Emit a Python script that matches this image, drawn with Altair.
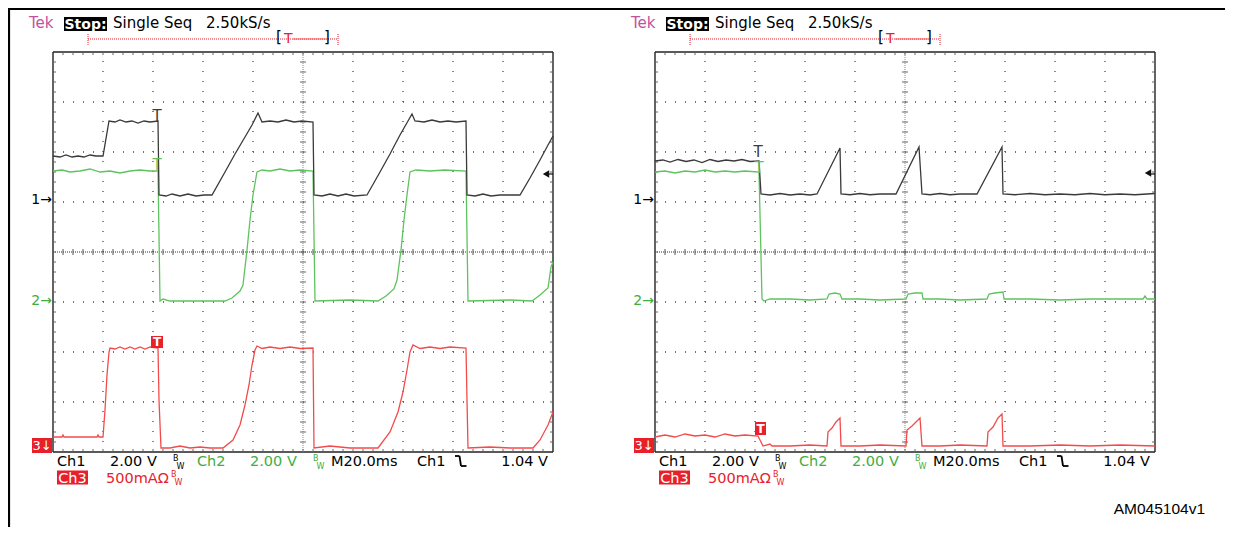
import altair as alt
import pandas as pd

# ---------------- scope settings ----------------
MS_PER_DIV = 20.0            # M20.0ms
CH1_PER_DIV, CH1_REF = 2.0, 5.04   # 2.00 V/div, "1->" marker (divisions from bottom)
CH2_PER_DIV, CH2_REF = 2.0, 3.02   # 2.00 V/div, "2->" marker
CH3_PER_DIV, CH3_REF = 0.5, 0.0    # 500 mA/div
PANEL_OFFSETS = [0.0, 12.04]       # left / right screen, in divisions

# ---------------- trace data (time in ms; Ch1/Ch2 in V; Ch3 in A) ----------------
L_CH1_T = [0, 2.8, 5.2, 7.6, 10.0, 12.4, 14.8, 17.2, 20.0, 22.4, 24.8, 26.8, 29.2, 31.6, 34.0, 36.4, 38.8, 42.0,
           42.4, 45.2, 47.6, 50.8, 54.0, 57.2, 60.4, 63.6, 68.8, 72.8, 76.8, 79.6, 82.0, 83.6, 86.8, 90.0, 93.2,
           96.4, 99.6, 104.0, 104.4, 107.6, 110.8, 114.0, 117.2, 120.4, 125.6, 130.8, 134.8, 138.8, 142.0, 143.6,
           144.8, 148.4, 151.6, 154.8, 158.0, 161.2, 165.2, 165.6, 168.8, 172.0, 175.2, 178.8, 186.8, 190.8, 194.8,
           198.0, 200.0]
L_CH1_V = [1.76, 1.72, 1.80, 1.72, 1.76, 1.72, 1.80, 1.76, 1.76, 3.16, 3.12, 3.20, 3.12, 3.16, 3.08, 3.16, 3.12, 3.16,
           0.20, 0.16, 0.24, 0.16, 0.24, 0.16, 0.20, 0.20, 1.12, 1.84, 2.52, 3.00, 3.48, 3.12, 3.16, 3.12, 3.20,
           3.12, 3.16, 3.12, 0.20, 0.16, 0.24, 0.16, 0.24, 0.16, 0.20, 1.12, 1.84, 2.60, 3.16, 3.44,
           3.16, 3.12, 3.20, 3.12, 3.16, 3.12, 3.16, 0.20, 0.16, 0.24, 0.16, 0.20, 0.20, 0.88, 1.60,
           2.20, 2.56]

L_CH2_T = [0, 3.6, 6.8, 10.8, 14.8, 18.8, 22.8, 26.8, 30.8, 34.8, 38.8, 42.0, 42.8, 44.0, 46.8, 68.8, 71.6, 74.8,
           76.0, 77.6, 78.8, 80.0, 81.6, 83.6, 86.8, 90.8, 94.8, 98.8, 104.0, 104.8, 118.8, 130.0, 133.2, 136.4,
           137.6, 139.2, 140.4, 141.6, 142.8, 145.2, 150.8, 156.8, 165.2, 166.0, 182.8, 191.6, 194.8, 198.0,
           199.2, 200.0]
L_CH2_V = [5.20, 5.24, 5.16, 5.20, 5.28, 5.16, 5.20, 5.12, 5.20, 5.24, 5.20, 5.20, 0.00, 0.08, 0.00, 0.00, 0.12, 0.40,
           0.64, 2.04, 3.24, 4.24, 5.16, 5.24, 5.20, 5.28, 5.20, 5.24, 5.20, 0.00, 0.04, 0.00, 0.20, 0.48,
           0.84, 2.04, 3.24, 4.24, 5.16, 5.24, 5.20, 5.24, 5.20, 0.00, 0.04, 0.00, 0.24, 0.52,
           1.36, 1.56]

L_CH3_T = [0, 3.6, 4.0, 4.4, 17.6, 18.0, 18.4, 20.0, 20.8, 21.6, 22.4, 22.8, 24.8, 26.8, 28.8, 30.8, 32.8, 34.8,
           36.8, 38.8, 42.0, 42.4, 43.2, 46.8, 50.8, 54.8, 58.8, 62.8, 68.0, 72.0, 74.8, 76.8, 78.4, 79.6, 80.8,
           81.6, 83.6, 86.8, 90.8, 94.8, 98.8, 104.0, 104.4, 110.8, 118.8, 130.0, 134.8, 138.0, 140.0, 141.6,
           142.8, 144.0, 146.8, 150.8, 154.8, 158.8, 165.2, 165.6, 166.0, 174.8, 182.8, 192.0, 194.8, 198.0, 200.0]
L_CH3_A = [0.15, 0.15, 0.17, 0.15, 0.15, 0.17, 0.15, 0.15, 0.42, 0.77, 1.00, 1.04, 1.03, 1.05, 1.03, 1.05, 1.03, 1.05,
           1.03, 1.05, 1.04, 0.52, 0.04, 0.04, 0.06, 0.04, 0.05, 0.04, 0.04, 0.12, 0.27, 0.47, 0.67, 0.87, 1.02,
           1.06, 1.035, 1.05, 1.035, 1.05, 1.035, 1.04, 0.04, 0.06, 0.04, 0.04, 0.20, 0.40, 0.60, 0.82,
           1.00, 1.07, 1.035, 1.05, 1.035, 1.05, 1.04, 0.52, 0.04, 0.05, 0.04, 0.04, 0.12, 0.27, 0.40]

R_CH1_T = [0, 3.2, 6.0, 9.2, 12.4, 15.6, 18.8, 22.0, 25.2, 28.4, 31.6, 34.8, 38.0, 41.6, 42.4, 46.0, 50.0, 54.0,
           58.0, 62.0, 64.8, 74.0, 74.4, 78.0, 82.0, 86.0, 90.0, 96.4, 105.6, 106.8, 110.0, 114.0, 118.0, 122.0,
           128.8, 138.8, 139.2, 144.0, 150.0, 156.0, 162.0, 168.0, 174.0, 180.0, 186.0, 192.0, 200.0]
R_CH1_V = [1.56, 1.60, 1.52, 1.62, 1.54, 1.60, 1.50, 1.62, 1.54, 1.60, 1.56, 1.62, 1.54, 1.56, 0.24, 0.20, 0.26, 0.20,
           0.24, 0.20, 0.24, 2.08, 0.24, 0.21, 0.26, 0.21, 0.24, 0.24, 2.12, 0.24, 0.21, 0.26, 0.21, 0.24,
           0.24, 2.12, 0.24, 0.21, 0.26, 0.21, 0.24, 0.21, 0.26, 0.21, 0.24, 0.21, 0.26]

R_CH2_T = [0, 4.0, 8.0, 12.0, 16.0, 20.0, 24.0, 28.0, 32.0, 36.0, 41.6, 42.8, 43.6, 46.0, 54.0, 62.0, 68.8, 69.6,
           72.0, 74.0, 74.8, 82.0, 90.0, 100.4, 101.2, 104.0, 106.8, 107.2, 114.0, 122.0, 132.8, 133.6, 136.0,
           139.2, 139.6, 150.0, 162.0, 174.0, 186.0, 195.2, 196.0, 196.8, 200.0]
R_CH2_V = [5.16, 5.20, 5.12, 5.20, 5.16, 5.24, 5.16, 5.20, 5.16, 5.20, 5.16, 0.08, 0.00, 0.08, 0.08, 0.04, 0.08, 0.28,
           0.32, 0.28, 0.08, 0.08, 0.04, 0.08, 0.28, 0.32, 0.32, 0.08, 0.08, 0.04, 0.08, 0.28, 0.32,
           0.36, 0.08, 0.08, 0.04, 0.08, 0.08, 0.08, 0.20, 0.08, 0.08]

R_CH3_T = [0, 4, 8, 12, 16, 20, 24, 28, 32, 36, 41.2, 42.0, 43.2, 46.0, 46.8, 54.0, 62.0, 68.8, 69.2, 70.8, 72.4,
           74.0, 74.4, 82.0, 90.0, 100.4, 100.8, 102.8, 104.4, 106.0, 106.8, 114.0, 122.0, 132.8, 133.2, 135.2,
           137.2, 138.8, 139.2, 150.0, 162.0, 174.0, 186.0, 200.0]
R_CH3_A = [0.15, 0.17, 0.15, 0.18, 0.16, 0.17, 0.15, 0.18, 0.16, 0.17, 0.16, 0.12, 0.06, 0.08, 0.06, 0.06, 0.07, 0.06,
           0.20, 0.24, 0.30, 0.34, 0.06, 0.06, 0.07, 0.06, 0.22, 0.26, 0.30, 0.34, 0.06, 0.06, 0.07, 0.06,
           0.20, 0.25, 0.34, 0.38, 0.06, 0.06, 0.07, 0.06, 0.07, 0.06]

# ---------------- labels ----------------
HEADER_LABELS = ["Tek", "Stop:", "Single Seq", "2.50kS/s"]
FOOTER_LABELS = ["Ch1", "2.00 V", "Ch2", "2.00 V", "M20.0ms", "Ch1", "1.04 V", "Ch3", "500mA\u03a9"]
DOC_ID = "AM045104v1"

# ---------------- styling ----------------
CH1_COLOR, CH2_COLOR, CH3_COLOR = "#3a3a3a", "#5ec35e", "#f24b4b"
CH2_TEXT, CH3_TEXT, TEK_COLOR = "#41ad41", "#e8202a", "#c052a0"
GRID_COLOR = "#4a4a4a"
FONT = "DejaVu Sans"
FS = 14.5   # footer font size

X_DOMAIN = [-0.9, 23.44]
Y_DOMAIN = [-1.5, 8.88]
W, H = 1217, 519

xs = alt.Scale(domain=X_DOMAIN, nice=False, zero=False)
ys = alt.Scale(domain=Y_DOMAIN, nice=False, zero=False)


def X(f="gx"):
    return alt.X(f"{f}:Q", scale=xs, axis=None)


def Y(f="gy"):
    return alt.Y(f"{f}:Q", scale=ys, axis=None)


COLOR = alt.Color("color:N", scale=None)

# ---------------- traces ----------------
frames = []
specs = [
    (0, "ch3", L_CH3_T, L_CH3_A, CH3_PER_DIV, CH3_REF, CH3_COLOR),
    (0, "ch2", L_CH2_T, L_CH2_V, CH2_PER_DIV, CH2_REF, CH2_COLOR),
    (0, "ch1", L_CH1_T, L_CH1_V, CH1_PER_DIV, CH1_REF, CH1_COLOR),
    (1, "ch3", R_CH3_T, R_CH3_A, CH3_PER_DIV, CH3_REF, CH3_COLOR),
    (1, "ch2", R_CH2_T, R_CH2_V, CH2_PER_DIV, CH2_REF, CH2_COLOR),
    (1, "ch1", R_CH1_T, R_CH1_V, CH1_PER_DIV, CH1_REF, CH1_COLOR),
]
for k, (p, ch, ts, vs, per, ref, col) in enumerate(specs):
    d = pd.DataFrame({"t": ts, "v": vs})
    d["gx"] = d["t"] / MS_PER_DIV + PANEL_OFFSETS[p]
    d["gy"] = d["v"] / per + ref
    d["series"] = f"{k}-{p}-{ch}"
    d["color"] = col
    d["i"] = range(len(d))
    frames.append(d)
traces_df = pd.concat(frames, ignore_index=True)

traces = alt.Chart(traces_df).mark_line(strokeWidth=1.3).encode(
    x=X(), y=Y(), color=COLOR, detail="series:N", order="i:Q")

# ---------------- graticule and decorations (rules) ----------------
rules = []  # gx, gx2, gy, gy2, color, style


def rule(x1, x2, y1, y2, color, style):
    rules.append({"gx": x1, "gx2": x2, "gy": y1, "gy2": y2, "color": color, "style": style})


TICK = 0.06
for o in PANEL_OFFSETS:
    # border
    rule(o, o + 10, 0, 0, "#222222", "border")
    rule(o, o + 10, 8, 8, "#222222", "border")
    rule(o, o, 0, 8, "#222222", "border")
    rule(o + 10, o + 10, 0, 8, "#222222", "border")
    # dotted major divisions
    for k in [1, 2, 3, 4, 6, 7, 8, 9]:
        rule(o + k, o + k, 0, 8, GRID_COLOR, "dots")
    for j in [1, 2, 3, 5, 6, 7]:
        rule(o, o + 10, j, j, GRID_COLOR, "dots")
    # centre lines
    rule(o + 5, o + 5, 0, 8, "#8a8a8a", "fine")
    rule(o, o + 10, 4, 4, "#333333", "fine")
    for m in range(1, 40):
        g = m * 0.2
        rule(o + 5 - TICK, o + 5 + TICK, g, g, "#666666", "tick")
        rule(o, o + TICK, g, g, "#666666", "tick")
        rule(o + 10 - TICK, o + 10, g, g, "#666666", "tick")
    for m in range(1, 50):
        g = o + m * 0.2
        rule(g, g, 4 - TICK, 4 + TICK, "#555555", "tick")
        rule(g, g, 8 - TICK, 8, "#666666", "tick")
        rule(g, g, 0, TICK, "#666666", "tick")
    # trigger record bar in header
    rule(o + 0.70, o + 5.70, 8.26, 8.26, "#e8202a", "fine")
    rule(o + 0.70, o + 0.70, 8.14, 8.38, "#e8202a", "fine")
    rule(o + 5.70, o + 5.70, 8.14, 8.38, "#e8202a", "fine")
    rule(o + 4.80, o + 5.46, 8.26, 8.26, "#e86060", "solid")
    # trigger level stub
    rule(o + 9.86, o + 10.0, 5.56, 5.56, "#111111", "solid")
    # falling-edge trigger slope symbol in the footer
    rule(o + 8.04, o + 8.13, -0.08, -0.08, "#000000", "glyph")
    rule(o + 8.13, o + 8.16, -0.08, -0.28, "#000000", "glyph")
    rule(o + 8.16, o + 8.27, -0.28, -0.28, "#000000", "glyph")

# figure frame
rule(X_DOMAIN[0], X_DOMAIN[1], 8.86, 8.86, "#000000", "frame")
rule(-0.88, -0.88, Y_DOMAIN[0], 8.88, "#000000", "frame")

rules_df = pd.DataFrame(rules)
RULE_STYLES = {
    "border": dict(strokeWidth=1.4),
    "dots": dict(strokeWidth=1.3, strokeDash=[1, 9]),
    "fine": dict(strokeWidth=1, strokeDash=[1, 1]),
    "tick": dict(strokeWidth=1),
    "solid": dict(strokeWidth=1.2),
    "glyph": dict(strokeWidth=1.8),
    "frame": dict(strokeWidth=2.2),
}
rule_layers = []
for style, kw in RULE_STYLES.items():
    sub = rules_df[rules_df["style"] == style]
    rule_layers.append(
        alt.Chart(sub).mark_rule(**kw).encode(
            x=X(), x2=alt.X2("gx2"), y=Y(), y2=alt.Y2("gy2"), color=COLOR))

# ---------------- boxes ----------------
boxes = []
TRIG_BOX = [(1.96, 2.20, 2.08, 2.32), (2.00, 2.22, 0.34, 0.60)]
for p, o in enumerate(PANEL_OFFSETS):
    boxes.append({"gx": o + 0.22, "gx2": o + 1.08, "gy": 8.42, "gy2": 8.70, "color": "#000000"})
    boxes.append({"gx": o - 0.42, "gx2": o - 0.02, "gy": -0.02, "gy2": 0.28, "color": "#e8202a"})
    boxes.append({"gx": o + 0.08, "gx2": o + 0.70, "gy": -0.65, "gy2": -0.37, "color": "#e8202a"})
    b = TRIG_BOX[p]
    boxes.append({"gx": o + b[0], "gx2": o + b[1], "gy": b[2], "gy2": b[3], "color": "#e8202a"})
boxes_df = pd.DataFrame(boxes)
box_layer = alt.Chart(boxes_df).mark_rect().encode(
    x=X(), x2=alt.X2("gx2"), y=Y(), y2=alt.Y2("gy2"), color=COLOR)

level_arrow = alt.Chart(pd.DataFrame({
    "gx": [o + 9.86 for o in PANEL_OFFSETS], "gy": [5.56, 5.58]})).mark_point(
    shape="triangle-left", filled=True, size=55, color="#111111", opacity=1).encode(x=X(), y=Y())

# ---------------- texts ----------------
texts = []


def txt(s, gx, gy, color, size=15, weight="normal", align="left", baseline="alphabetic", font=FONT):
    texts.append({"text": s, "gx": gx, "gy": gy, "color": color, "size": size, "weight": weight,
                  "align": align, "baseline": baseline, "font": font})


TRIG_T = [
    [(2.08, 6.72, CH1_COLOR), (2.08, 5.74, CH2_COLOR), (2.08, 2.20, "#ffffff")],
    [(2.06, 6.00, CH1_COLOR), (2.08, 5.68, CH2_COLOR), (2.11, 0.47, "#ffffff")],
]
L1, L2 = -0.28, -0.615
for p, o in enumerate(PANEL_OFFSETS):
    txt(HEADER_LABELS[0], o - 0.48, 8.48, TEK_COLOR)
    txt(HEADER_LABELS[1], o + 0.65, 8.47, "#ffffff", 14, "bold", "center")
    txt(HEADER_LABELS[2], o + 1.20, 8.48, "#000000")
    txt(HEADER_LABELS[3], o + 3.06, 8.48, "#000000")
    txt("[", o + 4.46, 8.20, "#000000")
    txt("T", o + 4.62, 8.18, "#e8202a", 14)
    txt("]", o + 5.42, 8.20, "#000000")

    txt(FOOTER_LABELS[0], o + 0.08, L1, "#000000", FS)
    txt(FOOTER_LABELS[1], o + 1.14, L1, "#000000", FS)
    txt("B", o + 2.40, -0.17, "#000000", 8)
    txt("W", o + 2.47, -0.33, "#000000", 8)
    txt(FOOTER_LABELS[2], o + 2.88, L1, CH2_TEXT, FS)
    txt(FOOTER_LABELS[3], o + 3.94, L1, CH2_TEXT, FS)
    txt("B", o + 5.20, -0.17, CH2_TEXT, 8)
    txt("W", o + 5.27, -0.33, CH2_TEXT, 8)
    txt(FOOTER_LABELS[4], o + 5.56, L1, "#000000", FS)
    txt(FOOTER_LABELS[5], o + 7.28, L1, "#000000", FS)
    txt(FOOTER_LABELS[6], o + 9.90, L1, "#000000", FS, "normal", "right")
    txt(FOOTER_LABELS[7], o + 0.39, L2, "#ffffff", FS, "normal", "center")
    txt(FOOTER_LABELS[8], o + 1.06, L2, CH3_TEXT, FS)
    txt("B", o + 2.36, -0.50, CH3_TEXT, 8)
    txt("W", o + 2.43, -0.66, CH3_TEXT, 8)

    txt("1\u2192", o - 0.02, CH1_REF, "#000000", 14, "normal", "right", "middle")
    txt("2\u2192", o - 0.02, CH2_REF, CH2_TEXT, 14, "normal", "right", "middle")
    txt("3\u2193", o - 0.22, 0.13, "#ffffff", 13, "normal", "center", "middle")
    for (tx, ty, tc) in TRIG_T[p]:
        if tc == "#ffffff":
            txt("T", o + tx, ty, tc, 12, "bold", "center", "middle")
        else:
            txt("T", o + tx, ty, tc, 15, "normal", "center", "middle")

txt(DOC_ID, 23.04, -1.24, "#000000", 15.5, "normal", "right", "alphabetic", "Liberation Sans")

texts_df = pd.DataFrame(texts)
text_layers = []
for (font, weight, align, baseline), sub in texts_df.groupby(["font", "weight", "align", "baseline"]):
    text_layers.append(
        alt.Chart(sub).mark_text(font=font, fontWeight=weight, align=align, baseline=baseline).encode(
            x=X(), y=Y(), text="text:N", color=COLOR, size=alt.Size("size:Q", scale=None)))

chart = alt.layer(*rule_layers, traces, box_layer, level_arrow, *text_layers).properties(
    width=W, height=H, padding=0, autosize=alt.AutoSizeParams(type="none"), background="white"
).configure_view(strokeWidth=0)

chart.save("out.html", embed_options={"renderer": "svg", "actions": False})
